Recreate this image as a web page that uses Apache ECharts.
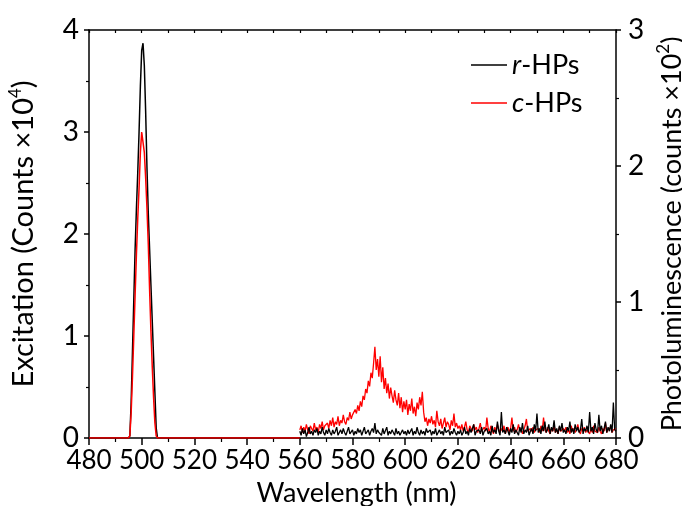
<!DOCTYPE html>
<html lang="en">
    <head>
        <meta charset="UTF-8" />
        <title>Excitation / Photoluminescence</title>
        <script src="https://cdn.jsdelivr.net/npm/echarts@6/dist/echarts.min.js"></script>
        <style>
            * {
                margin: 0;
                padding: 0;
            }
            #chart {
                width: 682px;
                height: 506px;
                background: #fff;
            }
        </style>
    </head>
    <body>
        <div id="chart"></div>
        <script type="text/javascript">
            // excitation spectra, left axis (counts x10^4)
            var exWave = [480, 495, 495.5, 496, 496.5, 497, 497.5, 498, 498.5, 499, 499.5, 500, 500.5, 501, 501.5, 502, 502.5, 503, 503.5, 504, 504.5, 505, 505.5, 506, 560];
            var exR = [0, 0, 0.02, 0.35, 0.85, 1.35, 1.85, 2.25, 2.6, 3.0, 3.45, 3.8, 3.87, 3.65, 3.2, 2.65, 2.2, 1.85, 1.5, 1.15, 0.8, 0.45, 0.1, 0, 0];
            var exC = [0, 0, 0.02, 0.25, 0.6, 1.0, 1.4, 1.8, 2.15, 2.45, 2.8, 3.0, 3.0, 2.8, 2.55, 2.25, 1.9, 1.45, 1.05, 0.7, 0.4, 0.15, 0.02, 0, 0];

            // photoluminescence, right axis (counts x10^2), 560-680 nm every 0.5 nm
            var plStart = 560;
            var plStep = 0.5;
            var plC = [
                0.06, 0.09, 0.04, 0.08, 0.05, 0.10, 0.06, 0.03, 0.09, 0.07, 0.05, 0.11, 0.06, 0.08, 0.04, 0.10, 0.07, 0.12, 0.06, 0.09, 0.08,
                0.11, 0.07, 0.13, 0.09, 0.15, 0.08, 0.12, 0.10, 0.16, 0.09, 0.13, 0.11, 0.17, 0.12, 0.10, 0.15, 0.13, 0.19, 0.14, 0.17,
                0.16, 0.21, 0.18, 0.24, 0.20, 0.27, 0.23, 0.31, 0.28, 0.36, 0.33, 0.42, 0.38, 0.48, 0.44, 0.55, 0.67, 0.50, 0.58, 0.45,
                0.60, 0.41, 0.52, 0.36, 0.44, 0.33, 0.40, 0.29, 0.37, 0.31, 0.26, 0.35, 0.28, 0.24, 0.33, 0.22, 0.30, 0.19, 0.27, 0.21,
                0.28, 0.17, 0.25, 0.20, 0.29, 0.18, 0.23, 0.16, 0.26, 0.21, 0.30, 0.24, 0.34, 0.19, 0.12, 0.15, 0.09, 0.14, 0.11, 0.16,
                0.10, 0.13, 0.08, 0.20, 0.12, 0.09, 0.14, 0.07, 0.11, 0.15, 0.08, 0.12, 0.10, 0.06, 0.13, 0.09, 0.18, 0.08, 0.11, 0.07,
                0.09, 0.06, 0.10, 0.05, 0.08, 0.12, 0.06, 0.04, 0.09, 0.07, 0.05, 0.10, 0.06, 0.08, 0.04, 0.07, 0.11, 0.05, 0.06, 0.08,
                0.05, 0.15, 0.07, 0.04, 0.09, 0.06, 0.03, 0.08, 0.05, 0.10, 0.06, 0.04, 0.07, 0.05, 0.09, 0.03, 0.06, 0.08, 0.04, 0.07,
                0.15, 0.05, 0.08, 0.04, 0.06, 0.10, 0.05, 0.07, 0.03, 0.06, 0.09, 0.14, 0.05, 0.04, 0.07, 0.05, 0.08, 0.04, 0.06, 0.05,
                0.07, 0.04, 0.09, 0.05, 0.15, 0.06, 0.04, 0.08, 0.05, 0.03, 0.07, 0.05, 0.09, 0.04, 0.06, 0.03, 0.08, 0.05, 0.04, 0.07,
                0.05, 0.08, 0.04, 0.06, 0.03, 0.09, 0.05, 0.07, 0.04, 0.06, 0.10, 0.05, 0.03, 0.07, 0.05, 0.08, 0.04, 0.06, 0.05, 0.03,
                0.07, 0.04, 0.09, 0.05, 0.06, 0.04, 0.08, 0.05, 0.03, 0.07, 0.05, 0.11, 0.04, 0.06, 0.05, 0.08, 0.04, 0.06, 0.05, 0.07
            ];
            var plR = [
                0.05, 0.02, 0.07, 0.03, 0.06, 0.01, 0.04, 0.08, 0.03, 0.05, 0.02, 0.06, 0.04, 0.07, 0.02, 0.05, 0.03, 0.08, 0.04, 0.02, 0.06,
                0.03, 0.07, 0.04, 0.02, 0.06, 0.03, 0.05, 0.08, 0.02, 0.04, 0.06, 0.03, 0.07, 0.04, 0.02, 0.05, 0.08, 0.03, 0.04, 0.06,
                0.02, 0.05, 0.03, 0.07, 0.04, 0.06, 0.02, 0.05, 0.08, 0.03, 0.04, 0.06, 0.02, 0.05, 0.07, 0.04, 0.11, 0.03, 0.06, 0.04,
                0.05, 0.02, 0.07, 0.03, 0.04, 0.08, 0.02, 0.05, 0.03, 0.06, 0.04, 0.02, 0.07, 0.03, 0.05, 0.02, 0.04, 0.06, 0.03, 0.05,
                0.02, 0.06, 0.03, 0.04, 0.07, 0.02, 0.05, 0.03, 0.08, 0.04, 0.02, 0.06, 0.03, 0.05, 0.02, 0.07, 0.04, 0.03, 0.06, 0.02,
                0.05, 0.03, 0.07, 0.02, 0.04, 0.06, 0.03, 0.05, 0.02, 0.08, 0.04, 0.03, 0.06, 0.02, 0.05, 0.03, 0.07, 0.04, 0.02, 0.05,
                0.03, 0.06, 0.02, 0.04, 0.08, 0.03, 0.05, 0.02, 0.07, 0.04, 0.03, 0.10, 0.02, 0.05, 0.04, 0.06, 0.03, 0.08, 0.02, 0.05,
                0.04, 0.07, 0.03, 0.05, 0.02, 0.09, 0.04, 0.06, 0.03, 0.12, 0.05, 0.02, 0.19, 0.04, 0.06, 0.03, 0.08, 0.05, 0.02, 0.07,
                0.04, 0.10, 0.03, 0.06, 0.05, 0.02, 0.08, 0.04, 0.11, 0.03, 0.06, 0.04, 0.09, 0.02, 0.05, 0.07, 0.03, 0.10, 0.05, 0.18,
                0.04, 0.07, 0.03, 0.09, 0.05, 0.12, 0.04, 0.06, 0.10, 0.03, 0.08, 0.05, 0.13, 0.04, 0.07, 0.03, 0.09, 0.05, 0.11, 0.04,
                0.06, 0.03, 0.08, 0.05, 0.12, 0.04, 0.07, 0.03, 0.10, 0.05, 0.08, 0.04, 0.06, 0.14, 0.03, 0.07, 0.05, 0.09, 0.04, 0.19,
                0.05, 0.08, 0.03, 0.11, 0.06, 0.04, 0.17, 0.05, 0.09, 0.03, 0.07, 0.12, 0.04, 0.08, 0.05, 0.10, 0.04, 0.26, 0.06, 0.05
            ];

            var font = 'Lato, sans-serif';

            function pairs(xs, ys) {
                return ys.map(function (v, i) {
                    return [xs[i], v];
                });
            }
            function plPairs(ys) {
                return ys.map(function (v, i) {
                    return [plStart + i * plStep, v];
                });
            }

            var myChart = echarts.init(document.getElementById('chart'));

            var axisLine = { show: true, onZero: false, lineStyle: { color: '#000', width: 1.5 } };
            var supRich = {
                sup: { fontSize: 17, fontFamily: font, color: '#000', verticalAlign: 'top', lineHeight: 34 },
            };

            var option = {
                animation: false,
                grid: { left: 89, right: 66, top: 30, bottom: 68, outerBoundsMode: 'none', containLabel: false },
                legend: {
                    orient: 'vertical',
                    left: 466,
                    top: 45,
                    icon: 'rect',
                    itemWidth: 36,
                    itemHeight: 1.5,
                    itemGap: 8,
                    data: ['r-HPs', 'c-HPs'],
                    formatter: function (name) {
                        return name === 'r-HPs' ? '{i|r}-HPs' : '{i|c}-HPs';
                    },
                    textStyle: {
                        fontFamily: font,
                        fontSize: 27,
                        color: '#000',
                        lineHeight: 30,
                        rich: { i: { fontFamily: font, fontSize: 27, fontStyle: 'italic', color: '#000', lineHeight: 30 } },
                    },
                },
                xAxis: [
                    {
                        type: 'value',
                        min: 480,
                        max: 680,
                        interval: 20,
                        name: 'Wavelength (nm)',
                        nameLocation: 'middle',
                        nameGap: 42,
                        nameTextStyle: { fontFamily: font, fontSize: 27, color: '#000', padding: [0, 0, 0, 8] },
                        axisLine: axisLine,
                        axisTick: { show: true, length: 7, lineStyle: { color: '#000', width: 1.5 } },
                        minorTick: { show: true, splitNumber: 2, length: 4, lineStyle: { color: '#000', width: 1.2 } },
                        axisLabel: { fontFamily: font, fontSize: 26, color: '#000', margin: 10 },
                        splitLine: { show: false },
                    },
                    {
                        type: 'value',
                        position: 'top',
                        min: 480,
                        max: 680,
                        interval: 10,
                        axisLine: axisLine,
                        axisTick: { show: true, inside: true, length: 3, lineStyle: { color: '#000', width: 1.2 } },
                        axisLabel: { show: false },
                        splitLine: { show: false },
                    },
                ],
                yAxis: [
                    {
                        type: 'value',
                        min: 0,
                        max: 4,
                        interval: 1,
                        name: 'Excitation (Counts ×10{sup|4})',
                        nameLocation: 'middle',
                        nameRotate: 90,
                        nameGap: 48,
                        nameTextStyle: { fontFamily: font, fontSize: 29, color: '#000', rich: supRich },
                        axisLine: axisLine,
                        axisTick: { show: true, length: 5, lineStyle: { color: '#000', width: 1.5 } },
                        minorTick: { show: true, splitNumber: 2, length: 3, lineStyle: { color: '#000', width: 1.2 } },
                        axisLabel: { fontFamily: font, fontSize: 28, color: '#000', margin: 10 },
                        splitLine: { show: false },
                    },
                    {
                        type: 'value',
                        min: 0,
                        max: 3,
                        interval: 1,
                        name: 'Photoluminescence (counts ×10{sup|2})',
                        nameLocation: 'middle',
                        nameRotate: 90,
                        nameGap: 38,
                        nameTextStyle: { fontFamily: font, fontSize: 27, color: '#000', rich: supRich },
                        axisLine: axisLine,
                        axisTick: { show: true, length: 5, lineStyle: { color: '#000', width: 1.5 } },
                        minorTick: { show: true, splitNumber: 2, length: 3, lineStyle: { color: '#000', width: 1.2 } },
                        axisLabel: { fontFamily: font, fontSize: 28, color: '#000', margin: 12 },
                        splitLine: { show: false },
                    },
                ],
                series: [
                    {
                        name: 'r-HPs',
                        type: 'line',
                        symbol: 'none',
                        yAxisIndex: 0,
                        data: pairs(exWave, exR),
                        lineStyle: { color: '#000', width: 1.5 },
                        itemStyle: { color: '#000' },
                    },
                    {
                        name: 'c-HPs',
                        type: 'line',
                        symbol: 'none',
                        yAxisIndex: 0,
                        data: pairs(exWave, exC),
                        lineStyle: { color: '#ff0000', width: 1.5 },
                        itemStyle: { color: '#ff0000' },
                    },
                    {
                        name: 'c-HPs',
                        type: 'line',
                        symbol: 'none',
                        yAxisIndex: 1,
                        data: plPairs(plC),
                        lineStyle: { color: '#ff0000', width: 1.3 },
                        itemStyle: { color: '#ff0000' },
                    },
                    {
                        name: 'r-HPs',
                        type: 'line',
                        symbol: 'none',
                        yAxisIndex: 1,
                        data: plPairs(plR),
                        lineStyle: { color: '#000', width: 1.3 },
                        itemStyle: { color: '#000' },
                    },
                ],
            };

            option && myChart.setOption(option);
        </script>
    </body>
</html>
